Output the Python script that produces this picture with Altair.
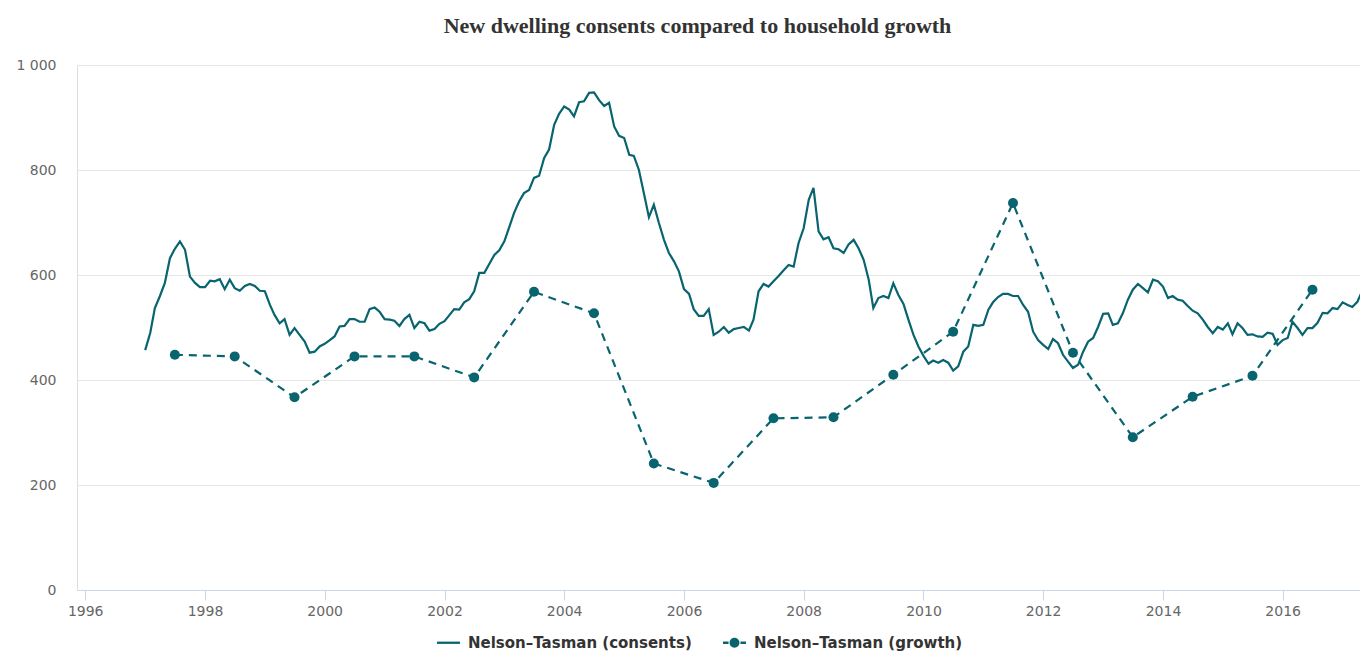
import altair as alt
import pandas as pd

# Monthly new dwelling consents (annualised), Jan 1997 onwards
consents = [
    457, 490, 537, 560, 585, 632, 650, 664, 648, 597,
    585, 577, 577, 589, 588, 592, 573, 591, 575, 570,
    579, 583, 579, 570, 569, 543, 524, 508, 516, 486,
    499, 486, 473, 452, 454, 464, 469, 476, 483, 502,
    503, 516, 516, 511, 511, 535, 538, 530, 516, 515,
    513, 503, 516, 524, 499, 511, 508, 494, 497, 507,
    512, 524, 535, 534, 548, 554, 569, 604, 604, 621,
    638, 647, 664, 692, 718, 740, 756, 762, 785, 789,
    823, 839, 886, 907, 921, 915, 902, 929, 931, 947,
    948, 933, 922, 928, 883, 865, 861, 829, 827, 800,
    756, 710, 734, 699, 667, 642, 626, 607, 573, 564,
    535, 522, 522, 535, 486, 492, 501, 490, 497, 499,
    501, 494, 515, 569, 583, 578, 588, 598, 609, 619,
    616, 661, 689, 743, 766, 683, 668, 672, 651, 649,
    642, 658, 667, 651, 629, 591, 537, 556, 560, 556,
    584, 562, 545, 515, 486, 464, 446, 431, 437, 433,
    438, 433, 418, 426, 454, 464, 505, 503, 505, 534,
    548, 558, 564, 564, 560, 560, 543, 530, 492, 476,
    467, 459, 478, 470, 448, 435, 423, 429, 454, 473,
    480, 501, 526, 527, 505, 508, 527, 553, 572, 583,
    575, 567, 591, 588, 578, 556, 560, 553, 551, 541,
    532, 527, 515, 501, 489, 501, 496, 508, 487, 508,
    499, 486, 487, 483, 482, 490, 488, 467, 476, 480,
    511, 499, 486, 499, 499, 509, 528, 527, 537, 535,
    548, 543, 539, 549, 570, 584,
]
consents_start = "1997-01-01"

# Household growth, mid-year values
growth_years = list(range(1997, 2017))
growth = [448, 445, 367, 445, 445, 405, 568, 527, 241, 204,
          327, 329, 410, 492, 737, 452, 291, 368, 408, 572]

S1 = "Nelson\u2013Tasman (consents)"
S2 = "Nelson\u2013Tasman (growth)"
series_names = [S1, S2]
TEAL = "#08646f"

cons_df = pd.DataFrame({
    "date": pd.date_range(consents_start, periods=len(consents), freq="MS"),
    "value": consents,
})
growth_df = pd.DataFrame({
    "date": pd.to_datetime([f"{y}-07-01" for y in growth_years]),
    "value": growth,
})
legend_df = pd.DataFrame({"series": series_names})

# legend symbols drawn as filled shapes: a bar, and bar-dot-bar
path_cons = "M-1,-0.1H1V0.1H-1Z"
path_growth = ("M-1,-0.1H-0.52V0.1H-1Z"
               "M0.52,-0.1H1V0.1H0.52Z"
               "M-0.43,0A0.43,0.43,0,1,1,0.43,0A0.43,0.43,0,1,1,-0.43,0Z")

x = alt.X(
    "date:T",
    title=None,
    scale=alt.Scale(domain=[alt.DateTime(year=1995, month=11, date=12),
                            alt.DateTime(year=2017, month=4, date=17)]),
    axis=alt.Axis(
        values=[alt.DateTime(year=y, month=1, date=1) for y in range(1996, 2017, 2)],
        format="%Y",
        grid=False,
        domainColor="#ccd6eb",
        tickColor="#ccd6eb",
        tickSize=10,
        labelPadding=4,
        labelFont="DejaVu Sans",
        labelFontSize=14,
        labelColor="#666666",
    ),
)
y = alt.Y(
    "value:Q",
    title=None,
    scale=alt.Scale(domain=[0, 1000], nice=False),
    axis=alt.Axis(
        values=[0, 200, 400, 600, 800, 1000],
        labelExpr="replace(format(datum.value, ','), ',', ' ')",
        domain=False,
        ticks=False,
        grid=True,
        gridColor="#e6e6e6",
        labelPadding=21,
        labelFont="DejaVu Sans",
        labelFontSize=14,
        labelColor="#666666",
    ),
)

line_cons = alt.Chart(cons_df).mark_line(color=TEAL, strokeWidth=2.2, clip=True).encode(x=x, y=y)
line_growth = alt.Chart(growth_df).mark_line(
    color=TEAL, strokeWidth=2.2, strokeDash=[8, 6], clip=True).encode(x=x, y=y)
pts_growth = alt.Chart(growth_df).mark_point(
    color=TEAL, filled=True, size=100, opacity=1, clip=True).encode(x=x, y=y)

# legend-only layer (no marks drawn; legend entries come from the scale domain)
legend_layer = alt.Chart(legend_df).transform_filter("false").mark_point(
    filled=True, color=TEAL, size=529, opacity=1
).encode(
    shape=alt.Shape(
        "series:N",
        scale=alt.Scale(domain=series_names, range=[path_cons, path_growth]),
        legend=alt.Legend(
            title=None,
            orient="none",
            legendX=359,
            legendY=565,
            direction="horizontal",
            padding=0,
            labelFont="DejaVu Sans",
            labelFontWeight="bold",
            labelFontSize=15,
            labelColor="#333333",
            labelLimit=400,
            labelOffset=7,
            columnPadding=28,
            symbolSize=529,
            symbolFillColor=TEAL,
            symbolOpacity=1,
        ),
    )
)

chart = alt.layer(line_cons, line_growth, pts_growth, legend_layer).properties(
    width=1283,
    height=525,
    title=alt.Title(
        "New dwelling consents compared to household growth",
        font="Liberation Serif",
        fontSize=22,
        fontWeight="bold",
        color="#333333",
        anchor="middle",
        dx=-21,
        offset=20,
    ),
    autosize=alt.AutoSizeParams(type="none"),
    padding={"left": 69, "top": 57, "right": 0, "bottom": 62},
).configure_view(stroke=None).configure(background="white")

chart.save("out.html", embed_options={"renderer": "svg", "actions": False})
